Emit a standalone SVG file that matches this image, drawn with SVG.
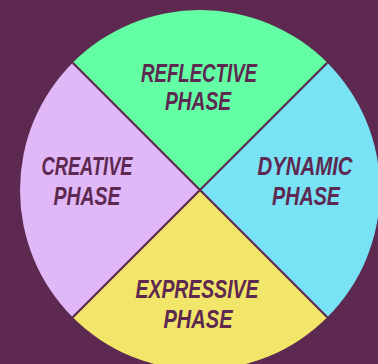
<svg xmlns="http://www.w3.org/2000/svg" width="378" height="364" viewBox="0 0 378 364">
<style>
.lbl{font-family:"Liberation Sans","DejaVu Sans",sans-serif;font-weight:bold;font-style:italic;font-size:25px;fill:#5e2950;text-anchor:middle}
.div{stroke:#5e2950;stroke-width:2.2;fill:none}
</style>
<rect width="378" height="364" fill="#5e2950"/>
<g id="reflective">
<path d="M200,190 L72.72,62.72 A180,180 0 0 1 327.28,62.72 Z" fill="#64ffa4"/>
<text class="lbl" x="199" y="82" textLength="116" lengthAdjust="spacingAndGlyphs">REFLECTIVE</text>
<text class="lbl" x="198" y="110" textLength="66" lengthAdjust="spacingAndGlyphs">PHASE</text>
</g>
<g id="dynamic">
<path d="M200,190 L327.28,62.72 A180,180 0 0 1 327.28,317.28 Z" fill="#79e3f5"/>
<text class="lbl" x="305" y="175" textLength="95" lengthAdjust="spacingAndGlyphs">DYNAMIC</text>
<text class="lbl" x="306" y="205" textLength="68" lengthAdjust="spacingAndGlyphs">PHASE</text>
</g>
<g id="expressive">
<path d="M200,190 L327.28,317.28 A180,180 0 0 1 72.72,317.28 Z" fill="#f2e66a"/>
<text class="lbl" x="197" y="298" textLength="123" lengthAdjust="spacingAndGlyphs">EXPRESSIVE</text>
<text class="lbl" x="198" y="328" textLength="69" lengthAdjust="spacingAndGlyphs">PHASE</text>
</g>
<g id="creative">
<path d="M200,190 L72.72,317.28 A180,180 0 0 1 72.72,62.72 Z" fill="#e0b8f7"/>
<text class="lbl" x="87" y="175" textLength="91" lengthAdjust="spacingAndGlyphs">CREATIVE</text>
<text class="lbl" x="87" y="205" textLength="67" lengthAdjust="spacingAndGlyphs">PHASE</text>
</g>
<g id="connectors">
<line class="div" x1="72.72" y1="62.72" x2="327.28" y2="317.28"/>
<line class="div" x1="327.28" y1="62.72" x2="72.72" y2="317.28"/>
</g>
</svg>
